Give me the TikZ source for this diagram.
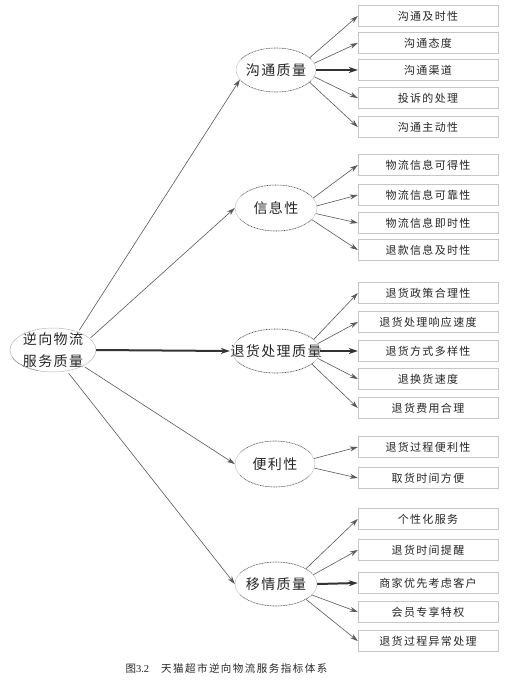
\documentclass[tikz,border=0pt]{standalone}
\usepackage{fontspec}
\setmainfont{Liberation Serif}
\newfontfamily\cjkbox[LetterSpace=12]{Noto Sans CJK SC}
\newfontfamily\cjkmid[LetterSpace=10]{Noto Sans CJK SC}
\newfontfamily\cjkcap[LetterSpace=14]{Noto Sans CJK SC}
\usetikzlibrary{arrows.meta,shapes.geometric}
\tikzset{
  x=1pt, y=1pt,
  box/.style={draw=gray!45, line width=0.4pt, minimum width=140pt, minimum height=21pt,
    inner sep=0pt, font=\cjkbox\fontsize{11}{13}\selectfont, text=black!85,
    path picture={\draw[line width=1.8pt, black!80]
      (path picture bounding box.north west)--(path picture bounding box.north east)
      (path picture bounding box.south west)--(path picture bounding box.south east);}},
  oval/.style={ellipse, draw=none, inner sep=0pt, font=\cjkmid\fontsize{14}{16}\selectfont, text=black!85},
  thin arrow/.style={draw=black!65, line width=0.6pt, -{Stealth[length=8pt,width=5pt]}},
  thick arrow/.style={draw=black!80, line width=2pt, -{Stealth[length=9pt,width=6pt]}},
}
\newcommand\drawoval[3]{%
  \draw[gray!45, line width=0.5pt] (#1.center) ellipse[x radius=#2, y radius=#3];
  \draw[black!75, line width=0.6pt, densely dotted] (#1.center) ++(30:#2 and #3)
    arc[start angle=30, end angle=150, x radius=#2, y radius=#3];
  \draw[black!75, line width=0.6pt, densely dotted] (#1.center) ++(210:#2 and #3)
    arc[start angle=210, end angle=330, x radius=#2, y radius=#3];
}
\begin{document}
\begin{tikzpicture}
\useasboundingbox[fill=white] (0,0) rectangle (508,-686);

% root
\node[oval, minimum width=86pt, minimum height=44pt, align=center,
      font=\cjkmid\fontsize{14}{22}\selectfont] (root) at (53,-350)
      {\makebox[0pt]{逆向物流}\\\makebox[0pt]{服务质量}};
\draw[gray!55, line width=0.5pt] (root.center) ellipse[x radius=43, y radius=22];
\draw[black!70, line width=0.6pt, densely dotted] (root.center) ++(200:43 and 22)
    arc[start angle=200, end angle=250, x radius=43, y radius=22];

% middle ovals
\node[oval, minimum width=80pt, minimum height=44pt] (g1) at (276,-70) {\makebox[0pt]{沟通质量}};
\node[oval, minimum width=82pt, minimum height=46pt] (g2) at (276,-208) {\makebox[0pt]{信息性}};
\node[oval, minimum width=88pt, minimum height=44pt] (g3) at (276,-351) {\makebox[0pt]{退货处理质量}};
\node[oval, minimum width=80pt, minimum height=46pt] (g4) at (275,-464) {\makebox[0pt]{便利性}};
\node[oval, minimum width=82pt, minimum height=44pt] (g5) at (276,-584) {\makebox[0pt]{移情质量}};
\drawoval{g1}{40}{22}
\drawoval{g2}{41}{23}
\drawoval{g3}{44}{22}
\drawoval{g4}{40}{23}
\drawoval{g5}{41}{22}

% boxes
\node[box] (a1) at (428,-16) {沟通及时性};
\node[box] (a2) at (428,-43) {沟通态度};
\node[box] (a3) at (428,-70) {沟通渠道};
\node[box] (a4) at (428,-98) {投诉的处理};
\node[box] (a5) at (428,-127) {沟通主动性};

\node[box] (b1) at (428,-165) {物流信息可得性};
\node[box] (b2) at (428,-195) {物流信息可靠性};
\node[box] (b3) at (428,-223) {物流信息即时性};
\node[box] (b4) at (428,-250) {退款信息及时性};

\node[box] (c1) at (428,-293) {退货政策合理性};
\node[box] (c2) at (428,-322) {退货处理响应速度};
\node[box] (c3) at (428,-351) {退货方式多样性};
\node[box] (c4) at (428,-379) {退换货速度};
\node[box] (c5) at (428,-408) {退货费用合理};

\node[box] (d1) at (428,-447) {退货过程便利性};
\node[box] (d2) at (428,-478) {取货时间方便};

\node[box] (e1) at (428,-519) {个性化服务};
\node[box] (e2) at (428,-550) {退货时间提醒};
\node[box] (e3) at (428,-583) {商家优先考虑客户};
\node[box] (e4) at (428,-612) {会员专享特权};
\node[box] (e5) at (428,-641) {退货过程异常处理};

% root arrows
\draw[thin arrow] (root.37) -- (g1.195);
\draw[thin arrow] (root.18) -- (g2.west);
\draw[thick arrow] (root.east) -- ([xshift=-2pt]g3.west);
\draw[thin arrow] (root.-28) -- (g4.west);
\draw[thin arrow] (root.-56) -- (g5.west);

% group arrows
\draw[thin arrow] (g1.20) -- (a1.west);
\draw[thin arrow] (g1.10) -- (a2.west);
\draw[thick arrow] (g1.east) -- (a3.west);
\draw[thin arrow] (g1.-10) -- (a4.west);
\draw[thin arrow] (g1.-20) -- (a5.west);

\draw[thin arrow] (g2.15) -- (b1.west);
\draw[thin arrow] (g2.3) -- (b2.west);
\draw[thin arrow] (g2.-8) -- (b3.west);
\draw[thin arrow] (g2.-18) -- (b4.west);

\draw[thin arrow] (g3.17) -- (c1.west);
\draw[thin arrow] (g3.10) -- (c2.west);
\draw[thick arrow] (g3.east) -- (c3.west);
\draw[thin arrow] (g3.-10) -- (c4.west);
\draw[thin arrow] (g3.-20) -- (c5.west);

\draw[thin arrow] (g4.8) -- (d1.west);
\draw[thin arrow] (g4.-6) -- (d2.west);

\draw[thin arrow] (g5.27) -- (e1.west);
\draw[thin arrow] (g5.14) -- (e2.west);
\draw[thick arrow] (g5.east) -- (e3.west);
\draw[thin arrow] (g5.-17) -- (e4.west);
\draw[thin arrow] (g5.-27) -- (e5.west);

% caption
\node[font=\cjkcap\fontsize{10.5}{12}\selectfont, anchor=west, text=black!85] (cap) at (122,-668)
  {图{\fontspec{Liberation Serif}3.2}\hspace{12pt}天猫超市逆向物流服务指标体系};
\end{tikzpicture}
\end{document}
